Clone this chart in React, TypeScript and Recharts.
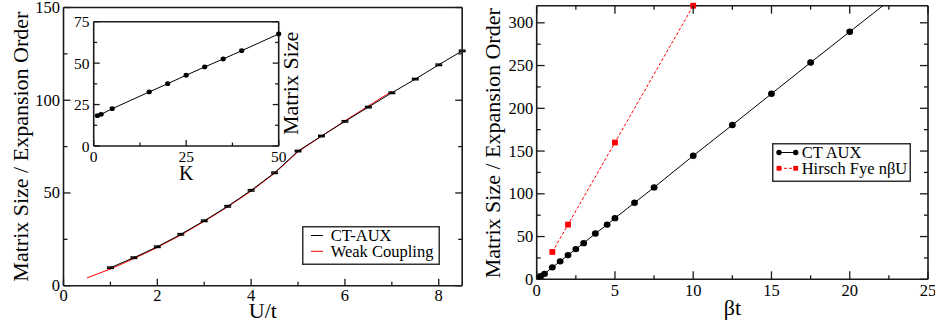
import React from 'react';
import { LineChart, Line, XAxis, YAxis, ErrorBar, Legend, CartesianGrid } from 'recharts';

const SERIF = "'Liberation Serif'";
const INK = '#000';
const FRAME = '#1a1a1a';

// ---------- Left panel: matrix size / expansion order vs U/t ----------
const ctAuxU = [1, 1.5, 2, 2.5, 3, 3.5, 4, 4.5, 5, 5.5, 6, 6.5, 7, 7.5, 8, 8.5];
const ctAuxOrder = [9.7, 15.1, 21.0, 27.7, 35.0, 42.8, 51.4, 60.9, 72.6, 80.7, 88.6, 96.3, 104.0, 111.4, 119.1, 126.6];
const ctAuxErr = [0.4, 0.4, 0.4, 0.4, 0.4, 0.4, 0.4, 0.4, 0.4, 0.4, 0.4, 0.4, 0.4, 0.4, 0.4, 0.4];
const weakU = [0.5, 1, 1.5, 2, 2.5, 3, 3.5, 4, 4.5, 5, 5.5, 6, 6.5, 7];
const weakOrder = [4.2, 9.0, 14.6, 20.6, 27.3, 34.7, 42.5, 51.0, 60.6, 72.2, 80.6, 88.9, 96.9, 104.8];
const leftXMajor = [0, 2, 4, 6, 8];
const leftXMinor = [1, 3, 5, 7];
const leftYMajor = [0, 50, 100, 150];
const leftYMinor = [25, 75, 125];

// ---------- Inset: matrix size vs K ----------
const insetK = [1, 2, 5, 15, 20, 25, 30, 35, 40, 50];
const insetSize = [18.3, 19.1, 22.5, 32.6, 37.6, 42.7, 47.7, 52.5, 57.5, 67.6];
const insetXMajor = [0, 25, 50];
const insetXMinor = [12.5, 37.5];
const insetYMajor = [0, 25, 50, 75];
const insetYMinor = [12.5, 37.5, 62.5];

// ---------- Right panel: matrix size vs beta t ----------
const betaT = [0.1, 0.25, 0.5, 1, 1.5, 2, 2.5, 3, 3.75, 4.5, 5, 6.25, 7.5, 10, 12.5, 15, 17.5, 20, 22.5];
const ctAuxSize = [1.5, 3.6, 6.4, 14, 21, 28.3, 35.3, 42.3, 53.5, 64, 71.5, 89.5, 107.5, 144.5, 180.5, 217, 253.5, 289.5, 325.5];
const hfBetaT = [1, 2, 5, 10];
const hfSize = [32, 64, 160, 320];
const rightXMajor = [0, 5, 10, 15, 20, 25];
const rightXMinor = [2.5, 7.5, 12.5, 17.5, 22.5];
const rightYMajor = [0, 50, 100, 150, 200, 250, 300];
const rightYMinor = [25, 75, 125, 175, 225, 275];

const ctData = ctAuxU.map((x, i) => ({ x, y: ctAuxOrder[i], e: ctAuxErr[i] }));
const weakData = weakU.map((x, i) => ({ x, y: weakOrder[i] }));
const insetData = insetK.map((x, i) => ({ x, y: insetSize[i] }));
const ctRightData = betaT.map((x, i) => ({ x, y: ctAuxSize[i] }));
const hfData = hfBetaT.map((x, i) => ({ x, y: hfSize[i] }));

type Side = 'bottom' | 'top' | 'left' | 'right';

const textStyle = (fontSize: number): React.CSSProperties => ({ fontFamily: SERIF, fontSize, fill: INK });

function tickRenderer(
  side: Side,
  majors: number[],
  majorLen: number,
  minorLen: number,
  labelled: boolean,
  fontSize: number,
  gap: number
) {
  return (props: any) => {
    const { x, y, payload } = props;
    const v = Number(payload.value);
    const major = majors.some((m) => Math.abs(m - v) < 1e-6);
    const len = major ? majorLen : minorLen;
    let x2 = x;
    let y2 = y;
    if (side === 'bottom') y2 = y - len;
    if (side === 'top') y2 = y + len;
    if (side === 'left') x2 = x + len;
    if (side === 'right') x2 = x - len;
    return (
      <g>
        <line x1={x} y1={y} x2={x2} y2={y2} stroke={FRAME} strokeWidth={1.3} />
        {labelled && major && side === 'bottom' && (
          <text x={x} y={y + gap} textAnchor="middle" style={textStyle(fontSize)}>
            {String(v)}
          </text>
        )}
        {labelled && major && side === 'left' && (
          <text x={x - gap} y={y} textAnchor="end" dominantBaseline="central" style={textStyle(fontSize)}>
            {String(v)}
          </text>
        )}
      </g>
    );
  };
}

function title(text: string, dx: number, dy: number, angle: number, fontSize: number) {
  return (props: any) => {
    const vb = props.viewBox || {};
    const cx = (vb.x ?? 0) + (vb.width ?? 0) / 2 + dx;
    const cy = (vb.y ?? 0) + (vb.height ?? 0) / 2 + dy;
    return (
      <text
        x={cx}
        y={cy}
        textAnchor="middle"
        dominantBaseline="central"
        transform={angle ? `rotate(${angle}, ${cx}, ${cy})` : undefined}
        style={textStyle(fontSize)}
      >
        {text}
      </text>
    );
  };
}

const axisLine = { stroke: FRAME, strokeWidth: 1.6 };

function LeftLegend() {
  return (
    <svg width={138} height={39} style={{ display: 'block' }}>
      <rect x={0.75} y={0.75} width={136.5} height={37.5} fill="#fff" stroke="#333" strokeWidth={1.5} />
      <line x1={9} y1={9.5} x2={21} y2={9.5} stroke={INK} strokeWidth={1} />
      <line x1={9} y1={25.3} x2={21} y2={25.3} stroke="#f00" strokeWidth={1} />
      <text x={28.7} y={9.5} dominantBaseline="central" style={textStyle(16.5)}>CT-AUX</text>
      <text x={28.7} y={25.3} dominantBaseline="central" style={textStyle(16.5)}>Weak Coupling</text>
    </svg>
  );
}

function RightLegend() {
  return (
    <svg width={139} height={39} style={{ display: 'block' }}>
      <rect x={0.75} y={0.75} width={137.5} height={37.5} fill="#fff" stroke="#333" strokeWidth={1.5} />
      <line x1={7} y1={9.5} x2={23.7} y2={9.5} stroke={INK} strokeWidth={1} />
      <circle cx={7} cy={9.5} r={2.7} fill={INK} />
      <circle cx={23.7} cy={9.5} r={2.7} fill={INK} />
      <line x1={7} y1={25.3} x2={23.7} y2={25.3} stroke="#f00" strokeWidth={1} strokeDasharray="3 2" />
      <rect x={4.6} y={22.9} width={4.8} height={4.8} fill="#f00" />
      <rect x={21.3} y={22.9} width={4.8} height={4.8} fill="#f00" />
      <text x={29.7} y={9.5} dominantBaseline="central" style={textStyle(16.5)}>CT AUX</text>
      <text x={29.7} y={25.3} dominantBaseline="central" style={textStyle(16.5)}>Hirsch Fye nβU</text>
    </svg>
  );
}

const circleDot = (maxY: number, r: number) => (p: any) => {
  if (p.payload.y > maxY || p.cx == null || p.cy == null) return <g key={`n${p.index}`} />;
  return <ellipse key={`c${p.index}`} cx={p.cx} cy={p.cy} rx={r + 0.2} ry={r} fill={INK} />;
};

const squareDot = (s: number) => (p: any) => {
  if (p.cx == null || p.cy == null) return <g key={`n${p.index}`} />;
  return <rect key={`s${p.index}`} x={p.cx - s / 2} y={p.cy - s / 2} width={s} height={s} fill="#f00" />;
};

export default function App() {
  return (
    <div style={{ position: 'absolute', left: 0, top: 0, width: 935, height: 331, background: '#fff', overflow: 'hidden', fontFamily: SERIF }}>
      {/* Left main panel */}
      <div style={{ position: 'absolute', left: 0, top: 0 }}>
        <LineChart width={470} height={331} margin={{ top: 6.5, left: 62.5, right: 6.8, bottom: 44.3 }}>
          <XAxis
            xAxisId="b"
            type="number"
            dataKey="x"
            domain={[0, 8.5]}
            ticks={[...leftXMajor, ...leftXMinor]}
            interval={0}
            height={1}
            tickLine={false}
            tickSize={0}
            tickMargin={0}
            axisLine={axisLine}
            tick={tickRenderer('bottom', leftXMajor, 7, 4, true, 16.5, 15)}
            label={title('U/t', 0, 24.3, 0, 22)}
          />
          <XAxis
            xAxisId="t"
            orientation="top"
            type="number"
            domain={[0, 8.5]}
            allowDataOverflow
            ticks={[...leftXMajor, ...leftXMinor]}
            interval={0}
            height={1}
            tickLine={false}
            tickSize={0}
            tickMargin={0}
            axisLine={axisLine}
            tick={tickRenderer('top', leftXMajor, 7, 4, false, 16.5, 0)}
          />
          <YAxis
            yAxisId="l"
            type="number"
            domain={[0, 150]}
            ticks={[...leftYMajor, ...leftYMinor]}
            interval={0}
            width={1}
            tickLine={false}
            tickSize={0}
            tickMargin={0}
            axisLine={axisLine}
            tick={tickRenderer('left', leftYMajor, 7, 4, true, 16.5, 3.5)}
            label={title('Matrix Size / Expansion Order', -42.5, 0, -90, 22)}
          />
          <YAxis
            yAxisId="r"
            orientation="right"
            type="number"
            domain={[0, 150]}
            allowDataOverflow
            ticks={[...leftYMajor, ...leftYMinor]}
            interval={0}
            width={1}
            tickLine={false}
            tickSize={0}
            tickMargin={0}
            axisLine={axisLine}
            tick={tickRenderer('right', leftYMajor, 7, 4, false, 16.5, 0)}
          />
          <Line
            xAxisId="b"
            yAxisId="l"
            data={weakData}
            dataKey="y"
            name="Weak Coupling"
            stroke="#f00"
            strokeWidth={1}
            dot={false}
            isAnimationActive={false}
          />
          <Line
            xAxisId="b"
            yAxisId="l"
            data={ctData}
            dataKey="y"
            name="CT-AUX"
            stroke={INK}
            strokeWidth={1}
            dot={false}
            isAnimationActive={false}
          >
            <ErrorBar dataKey="e" width={3.5} stroke={INK} strokeWidth={1.4} direction="y" isAnimationActive={false} />
          </Line>
          <Legend
            layout="vertical"
            align="center"
            verticalAlign="middle"
            content={() => <LeftLegend />}
            wrapperStyle={{ left: 302, top: 226, width: 138, height: 39 }}
          />
        </LineChart>
      </div>

      {/* Inset */}
      <div style={{ position: 'absolute', left: 60, top: 0 }}>
        <LineChart width={260} height={200} margin={{ top: 20.7, left: 32.7, right: 40.3, bottom: 53 }}>
          <CartesianGrid xAxisId="b" yAxisId="l" fill="#fff" horizontal={false} vertical={false} />
          <XAxis
            xAxisId="b"
            type="number"
            dataKey="x"
            domain={[0, 50]}
            ticks={[...insetXMajor, ...insetXMinor]}
            interval={0}
            height={1}
            tickLine={false}
            tickSize={0}
            tickMargin={0}
            axisLine={axisLine}
            tick={tickRenderer('bottom', insetXMajor, 6, 3.5, true, 15.5, 16)}
            label={title('K', 0, 26.5, 0, 20)}
          />
          <XAxis
            xAxisId="t"
            orientation="top"
            type="number"
            domain={[0, 50]}
            allowDataOverflow
            ticks={[...insetXMajor, ...insetXMinor]}
            interval={0}
            height={1}
            tickLine={false}
            tickSize={0}
            tickMargin={0}
            axisLine={axisLine}
            tick={tickRenderer('top', insetXMajor, 6, 3.5, false, 15.5, 0)}
          />
          <YAxis
            yAxisId="l"
            type="number"
            domain={[0, 75]}
            ticks={[...insetYMajor, ...insetYMinor]}
            interval={0}
            width={1}
            tickLine={false}
            tickSize={0}
            tickMargin={0}
            axisLine={axisLine}
            tick={tickRenderer('left', insetYMajor, 6, 3.5, true, 15.5, 4.2)}
          />
          <YAxis
            yAxisId="r"
            orientation="right"
            type="number"
            domain={[0, 75]}
            allowDataOverflow
            ticks={[...insetYMajor, ...insetYMinor]}
            interval={0}
            width={1}
            tickLine={false}
            tickSize={0}
            tickMargin={0}
            axisLine={axisLine}
            tick={tickRenderer('right', insetYMajor, 6, 3.5, false, 15.5, 0)}
            label={title('Matrix Size', 11.8, -0.5, -90, 22)}
          />
          <Line
            xAxisId="b"
            yAxisId="l"
            data={insetData}
            dataKey="y"
            stroke={INK}
            strokeWidth={1}
            dot={circleDot(1000, 2.4)}
            isAnimationActive={false}
          />
        </LineChart>
      </div>

      {/* Right panel */}
      <div style={{ position: 'absolute', left: 470, top: 0 }}>
        <LineChart width={465} height={331} margin={{ top: 4.7, left: 65.7, right: 6, bottom: 50.7 }}>
          <XAxis
            xAxisId="b"
            type="number"
            dataKey="x"
            domain={[0, 25]}
            allowDataOverflow
            ticks={[...rightXMajor, ...rightXMinor]}
            interval={0}
            height={1}
            tickLine={false}
            tickSize={0}
            tickMargin={0}
            axisLine={axisLine}
            tick={tickRenderer('bottom', rightXMajor, 8, 4, true, 16.5, 16.5)}
            label={title('βt', 0, 28, 0, 22)}
          />
          <XAxis
            xAxisId="t"
            orientation="top"
            type="number"
            dataKey="x"
            domain={[0, 25]}
            ticks={[...rightXMajor, ...rightXMinor]}
            interval={0}
            height={1}
            tickLine={false}
            tickSize={0}
            tickMargin={0}
            axisLine={axisLine}
            tick={tickRenderer('top', rightXMajor, 8, 4, false, 16.5, 0)}
          />
          <YAxis
            yAxisId="l"
            type="number"
            domain={[0, 320]}
            allowDataOverflow
            ticks={[...rightYMajor, ...rightYMinor]}
            interval={0}
            width={1}
            tickLine={false}
            tickSize={0}
            tickMargin={0}
            axisLine={axisLine}
            tick={tickRenderer('left', rightYMajor, 8, 4, true, 16.5, 3.4)}
            label={title('Matrix Size / Expansion Order', -43.2, 0.8, -90, 22)}
          />
          <YAxis
            yAxisId="r"
            orientation="right"
            type="number"
            domain={[0, 320]}
            ticks={[...rightYMajor, ...rightYMinor]}
            interval={0}
            width={1}
            tickLine={false}
            tickSize={0}
            tickMargin={0}
            axisLine={axisLine}
            tick={tickRenderer('right', rightYMajor, 8, 4, false, 16.5, 0)}
          />
          <Line
            xAxisId="t"
            yAxisId="r"
            data={hfData}
            dataKey="y"
            name="Hirsch Fye nβU"
            stroke="#f00"
            strokeWidth={1}
            strokeDasharray="3 2"
            dot={squareDot(5.8)}
            isAnimationActive={false}
          />
          <Line
            xAxisId="b"
            yAxisId="l"
            data={ctRightData}
            dataKey="y"
            name="CT AUX"
            stroke={INK}
            strokeWidth={1}
            dot={circleDot(320, 3.2)}
            isAnimationActive={false}
          />
          <Legend
            layout="vertical"
            align="center"
            verticalAlign="middle"
            content={() => <RightLegend />}
            wrapperStyle={{ left: 301.7, top: 143.3, width: 139, height: 39 }}
          />
        </LineChart>
      </div>
    </div>
  );
}
